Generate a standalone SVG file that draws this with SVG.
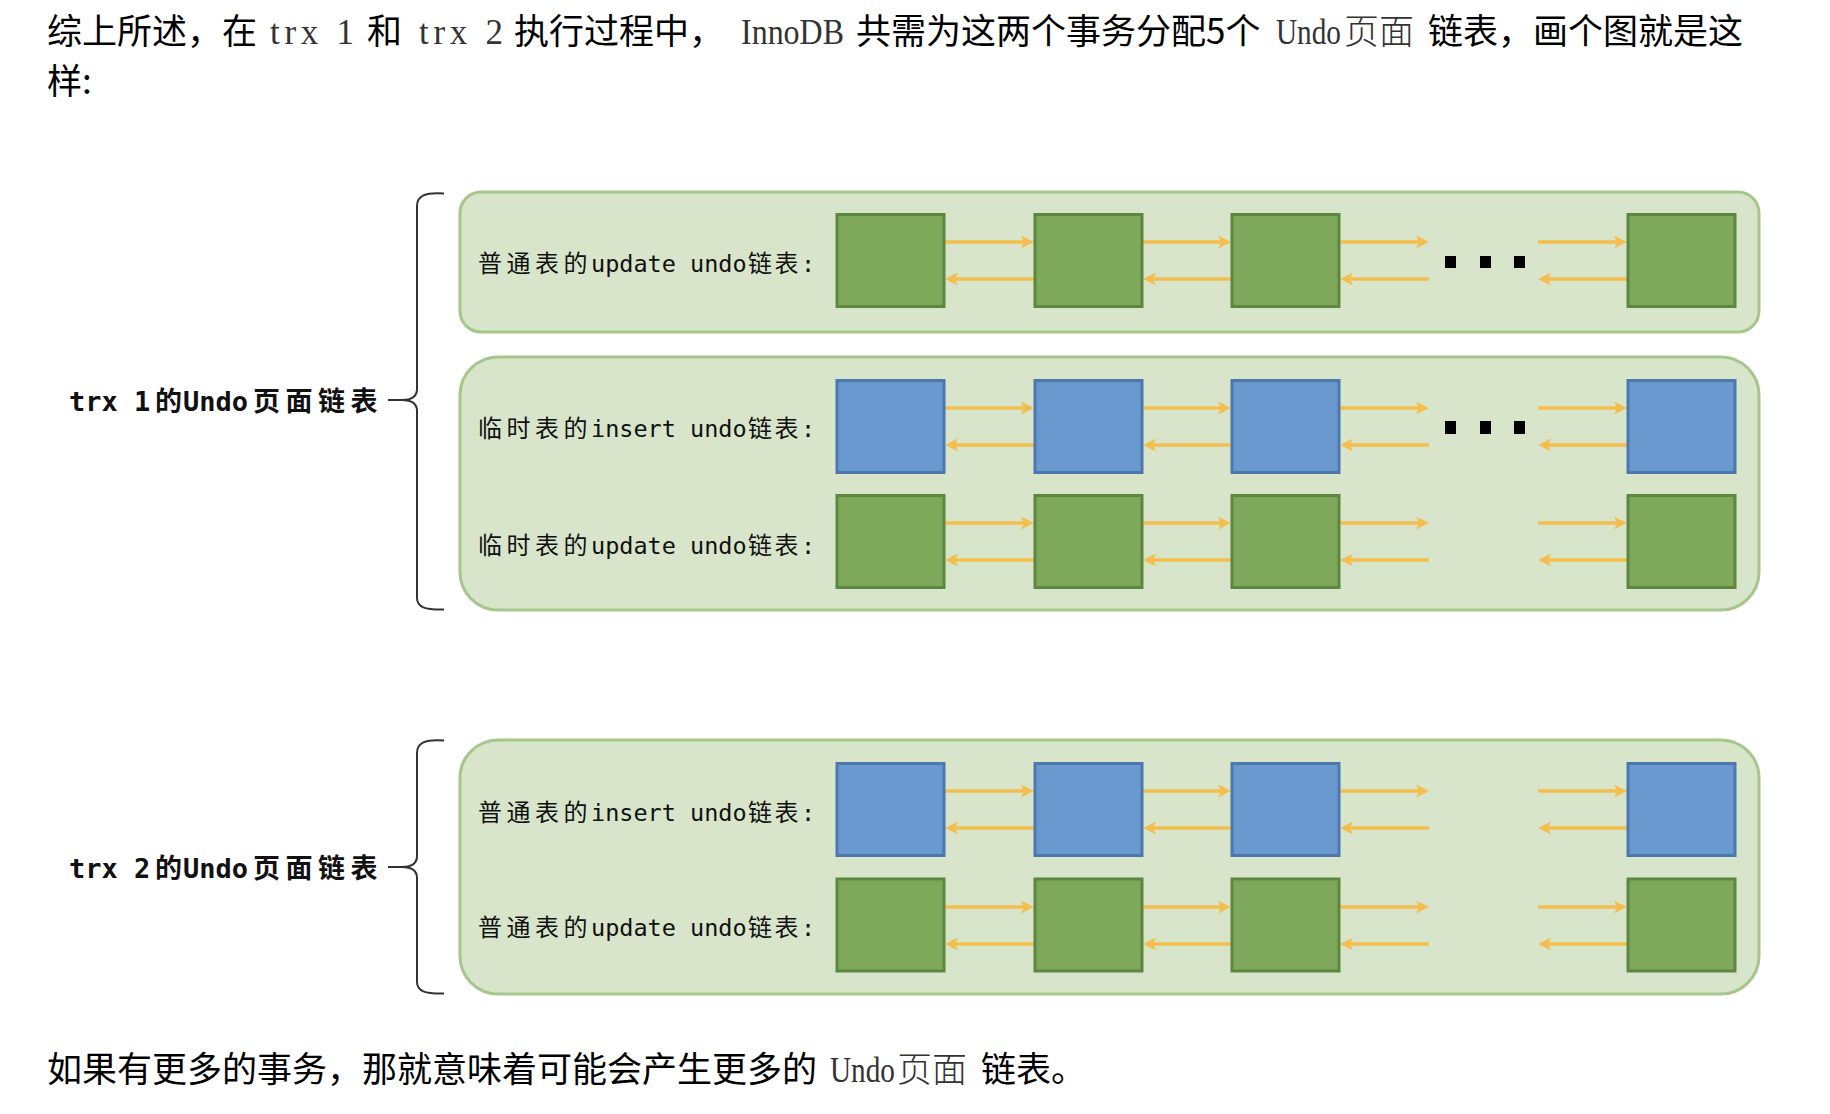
<svg xmlns="http://www.w3.org/2000/svg" width="1830" height="1114" viewBox="0 0 1830 1114">
<style>
.para{font-family:"Noto Sans CJK SC","Liberation Sans",sans-serif;font-size:35px;fill:#000}
.ser{font-family:"Liberation Serif",serif;font-size:35px;fill:#333}
.serc{font-family:"Noto Sans CJK SC",sans-serif;font-size:35px;font-weight:300;fill:#333}
.lbl{font-family:"DejaVu Sans Mono","Noto Sans CJK SC",monospace;font-size:23.5px;fill:#111}
.lc{font-family:"Noto Sans CJK SC",sans-serif;font-size:24px}
.trx{font-family:"DejaVu Sans Mono","Noto Sans CJK SC",monospace;font-size:27px;font-weight:bold;fill:#111}
.box{fill:#D8E5CB;stroke:#A6C78C;stroke-width:3}
.g{fill:#7EA85A;stroke:#5C873F;stroke-width:3}
.b{fill:#6A99CF;stroke:#4C78AD;stroke-width:3}
.brace{fill:none;stroke:#333;stroke-width:2}
.ar{stroke:#F3BE4E;stroke-width:3.3;fill:none;marker-end:url(#ah)}
.dot{fill:#000}
</style>
<defs>
<marker id="ah" markerUnits="userSpaceOnUse" markerWidth="14" markerHeight="14" viewBox="0 0 14 14" refX="3" refY="7" orient="auto">
<path d="M0,0.5 L13,7 L0,13.5 L3,7 Z" fill="#F3BE4E"/>
</marker>
</defs>
<rect width="1830" height="1114" fill="#fff"/>

<g id="intro">
<text class="para" y="44"><tspan x="47">综上所述，在</tspan><tspan class="ser" x="270" letter-spacing="4.7">trx 1</tspan><tspan x="367">和</tspan><tspan class="ser" x="419" letter-spacing="4.7">trx 2</tspan><tspan x="514">执行过程中，</tspan><tspan class="ser" x="741" textLength="103" lengthAdjust="spacingAndGlyphs">InnoDB</tspan><tspan x="856">共需为这两个事务分配5个</tspan><tspan class="ser" x="1276" textLength="65" lengthAdjust="spacingAndGlyphs">Undo</tspan><tspan class="serc" x="1344">页面</tspan><tspan x="1428">链表，画个图就是这</tspan></text>
<text class="para" x="47" y="94">样:</text>
</g>

<g id="trx1-label">
<text class="trx" y="411"><tspan x="69">trx 1</tspan><tspan x="155">的</tspan><tspan x="183">Undo</tspan><tspan x="253" letter-spacing="5.5">页面链表</tspan></text>
<path class="brace" d="M444,193.5 C425,192 417,196 417,206 L417,389 C417,396 413,400 402,400 L388,400 M402,400 C413,400 417,404 417,411 L417,598 C417,607 425,610 444,609.5"/>
</g>
<g id="trx2-label">
<text class="trx" y="878"><tspan x="69">trx 2</tspan><tspan x="155">的</tspan><tspan x="183">Undo</tspan><tspan x="253" letter-spacing="5.5">页面链表</tspan></text>
<path class="brace" d="M444,740.5 C425,739 417,743 417,753 L417,856 C417,863 413,867 402,867 L388,867 M402,867 C413,867 417,871 417,878 L417,982 C417,991 425,994 444,993.5"/>
</g>

<g id="group1"><rect class="box" x="460" y="192" width="1299" height="140" rx="21"/></g>
<g id="group2"><rect class="box" x="460" y="357" width="1299" height="253" rx="38"/></g>
<g id="group3"><rect class="box" x="460" y="740" width="1299" height="254" rx="38"/></g>

<g id="labels">
<text class="lbl" y="272"><tspan class="lc" x="478" letter-spacing="4.5">普通表的</tspan><tspan x="591">update undo</tspan><tspan class="lc" x="748" letter-spacing="2.5">链表</tspan><tspan>:</tspan></text>
<text class="lbl" y="437"><tspan class="lc" x="478" letter-spacing="4.5">临时表的</tspan><tspan x="591">insert undo</tspan><tspan class="lc" x="748" letter-spacing="2.5">链表</tspan><tspan>:</tspan></text>
<text class="lbl" y="554"><tspan class="lc" x="478" letter-spacing="4.5">临时表的</tspan><tspan x="591">update undo</tspan><tspan class="lc" x="748" letter-spacing="2.5">链表</tspan><tspan>:</tspan></text>
<text class="lbl" y="821"><tspan class="lc" x="478" letter-spacing="4.5">普通表的</tspan><tspan x="591">insert undo</tspan><tspan class="lc" x="748" letter-spacing="2.5">链表</tspan><tspan>:</tspan></text>
<text class="lbl" y="936"><tspan class="lc" x="478" letter-spacing="4.5">普通表的</tspan><tspan x="591">update undo</tspan><tspan class="lc" x="748" letter-spacing="2.5">链表</tspan><tspan>:</tspan></text>
</g>

<g id="connectors">
<line class="ar" x1="945" y1="242" x2="1024" y2="242"/><line class="ar" x1="1034" y1="279" x2="955" y2="279"/>
<line class="ar" x1="1143" y1="242" x2="1221" y2="242"/><line class="ar" x1="1231" y1="279" x2="1153" y2="279"/>
<line class="ar" x1="1340" y1="242" x2="1419" y2="242"/><line class="ar" x1="1429" y1="279" x2="1350" y2="279"/>
<line class="ar" x1="1538" y1="242" x2="1617" y2="242"/><line class="ar" x1="1627" y1="279" x2="1548" y2="279"/>

<line class="ar" x1="945" y1="408" x2="1024" y2="408"/><line class="ar" x1="1034" y1="445" x2="955" y2="445"/>
<line class="ar" x1="1143" y1="408" x2="1221" y2="408"/><line class="ar" x1="1231" y1="445" x2="1153" y2="445"/>
<line class="ar" x1="1340" y1="408" x2="1419" y2="408"/><line class="ar" x1="1429" y1="445" x2="1350" y2="445"/>
<line class="ar" x1="1538" y1="408" x2="1617" y2="408"/><line class="ar" x1="1627" y1="445" x2="1548" y2="445"/>

<line class="ar" x1="945" y1="523" x2="1024" y2="523"/><line class="ar" x1="1034" y1="560" x2="955" y2="560"/>
<line class="ar" x1="1143" y1="523" x2="1221" y2="523"/><line class="ar" x1="1231" y1="560" x2="1153" y2="560"/>
<line class="ar" x1="1340" y1="523" x2="1419" y2="523"/><line class="ar" x1="1429" y1="560" x2="1350" y2="560"/>
<line class="ar" x1="1538" y1="523" x2="1617" y2="523"/><line class="ar" x1="1627" y1="560" x2="1548" y2="560"/>

<line class="ar" x1="945" y1="791" x2="1024" y2="791"/><line class="ar" x1="1034" y1="828" x2="955" y2="828"/>
<line class="ar" x1="1143" y1="791" x2="1221" y2="791"/><line class="ar" x1="1231" y1="828" x2="1153" y2="828"/>
<line class="ar" x1="1340" y1="791" x2="1419" y2="791"/><line class="ar" x1="1429" y1="828" x2="1350" y2="828"/>
<line class="ar" x1="1538" y1="791" x2="1617" y2="791"/><line class="ar" x1="1627" y1="828" x2="1548" y2="828"/>

<line class="ar" x1="945" y1="907" x2="1024" y2="907"/><line class="ar" x1="1034" y1="944" x2="955" y2="944"/>
<line class="ar" x1="1143" y1="907" x2="1221" y2="907"/><line class="ar" x1="1231" y1="944" x2="1153" y2="944"/>
<line class="ar" x1="1340" y1="907" x2="1419" y2="907"/><line class="ar" x1="1429" y1="944" x2="1350" y2="944"/>
<line class="ar" x1="1538" y1="907" x2="1617" y2="907"/><line class="ar" x1="1627" y1="944" x2="1548" y2="944"/>
</g>

<g id="dots">
<rect class="dot" x="1445" y="256" width="11" height="12"/><rect class="dot" x="1480" y="256" width="11" height="12"/><rect class="dot" x="1514" y="256" width="11" height="12"/>
<rect class="dot" x="1445" y="421" width="11" height="13"/><rect class="dot" x="1480" y="421" width="11" height="13"/><rect class="dot" x="1514" y="421" width="11" height="13"/>
</g>

<g id="row1">
<rect id="r1c1" class="g" x="837" y="214.5" width="107" height="92"/>
<rect id="r1c2" class="g" x="1035" y="214.5" width="107" height="92"/>
<rect id="r1c3" class="g" x="1232" y="214.5" width="107" height="92"/>
<rect id="r1c5" class="g" x="1628" y="214.5" width="107" height="92"/>
</g>
<g id="row2">
<rect id="r2c1" class="b" x="837" y="380.5" width="107" height="92"/>
<rect id="r2c2" class="b" x="1035" y="380.5" width="107" height="92"/>
<rect id="r2c3" class="b" x="1232" y="380.5" width="107" height="92"/>
<rect id="r2c5" class="b" x="1628" y="380.5" width="107" height="92"/>
</g>
<g id="row3">
<rect id="r3c1" class="g" x="837" y="495.5" width="107" height="92"/>
<rect id="r3c2" class="g" x="1035" y="495.5" width="107" height="92"/>
<rect id="r3c3" class="g" x="1232" y="495.5" width="107" height="92"/>
<rect id="r3c5" class="g" x="1628" y="495.5" width="107" height="92"/>
</g>
<g id="row4">
<rect id="r4c1" class="b" x="837" y="763.5" width="107" height="92"/>
<rect id="r4c2" class="b" x="1035" y="763.5" width="107" height="92"/>
<rect id="r4c3" class="b" x="1232" y="763.5" width="107" height="92"/>
<rect id="r4c5" class="b" x="1628" y="763.5" width="107" height="92"/>
</g>
<g id="row5">
<rect id="r5c1" class="g" x="837" y="879" width="107" height="92"/>
<rect id="r5c2" class="g" x="1035" y="879" width="107" height="92"/>
<rect id="r5c3" class="g" x="1232" y="879" width="107" height="92"/>
<rect id="r5c5" class="g" x="1628" y="879" width="107" height="92"/>
</g>

<g id="outro">
<text class="para" y="1082"><tspan x="47">如果有更多的事务，那就意味着可能会产生更多的</tspan><tspan class="ser" x="830" textLength="65" lengthAdjust="spacingAndGlyphs">Undo</tspan><tspan class="serc" x="897">页面</tspan><tspan x="981">链表。</tspan></text>
</g>
</svg>
